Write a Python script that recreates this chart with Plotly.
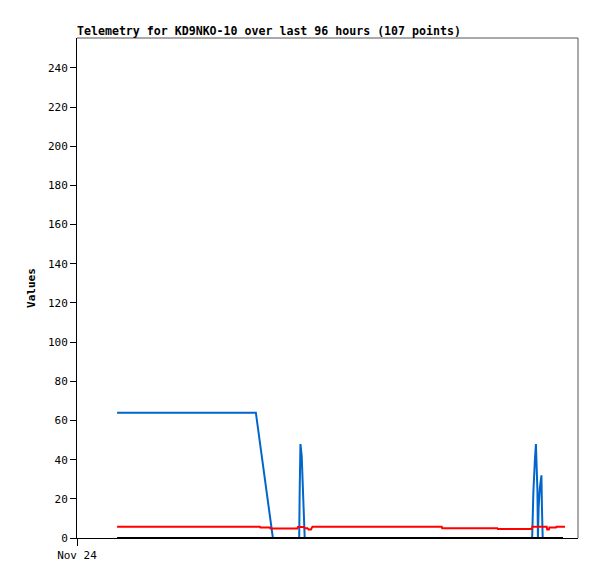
import plotly.graph_objects as go

# Hours from axis start (axis spans 0..100 h)
blue_x = [8.0, 35.7, 39.1, 44.35, 44.45, 44.6, 44.85, 45.05, 45.3, 45.45,
          90.85, 90.9, 91.1, 91.4, 91.6, 91.7, 91.9, 92.0, 92.15, 92.4, 92.7, 92.8, 92.95, 97.0]
blue_y = [64, 64, 0, 0, 24, 48, 42, 30, 18, 0,
          0, 8, 24, 40, 48, 40, 24, 0, 16, 26, 32, 16, 0, 0]

red_x = [8.0, 36.5, 36.6, 38.5, 38.6, 44.0, 44.1, 45.3, 45.5, 46.0, 46.2, 46.7, 47.0,
         72.8, 72.9, 83.9, 84.0, 90.8, 90.9, 93.75, 93.85, 94.2, 94.3, 95.6, 95.7, 97.4]
red_y = [5.8, 5.8, 5.4, 5.4, 4.9, 4.9, 5.6, 5.6, 5.0, 5.0, 4.4, 4.4, 5.8,
         5.8, 5.0, 5.0, 4.6, 4.6, 5.8, 5.8, 4.4, 4.4, 5.3, 5.3, 5.8, 5.8]

black_x = [8.0, 97.0]
black_y = [0, 0]

y_ticks = list(range(0, 241, 20))
x_tick_vals = [0]
x_tick_text = ["Nov 24"]

title = "Telemetry for KD9NKO-10 over last 96 hours (107 points)"

fig = go.Figure()
fig.add_trace(go.Scatter(x=blue_x, y=blue_y, mode="lines",
                         line=dict(color="#0066cc", width=2), showlegend=False))
fig.add_trace(go.Scatter(x=red_x, y=red_y, mode="lines",
                         line=dict(color="#ff0000", width=2), showlegend=False))
fig.add_trace(go.Scatter(x=black_x, y=black_y, mode="lines",
                         line=dict(color="#000000", width=2), showlegend=False))

mono = "DejaVu Sans Mono"
fig.update_layout(
    width=597, height=579,
    margin=dict(l=69, r=27, t=30, b=49),
    paper_bgcolor="white", plot_bgcolor="white",
    title=dict(text="<b>" + title + "</b>", x=69 / 597, xanchor="left",
               y=1 - 23 / 579, yanchor="middle",
               font=dict(family=mono, size=11.6, color="black")),
    font=dict(family=mono, size=11, color="black"),
    xaxis=dict(range=[0, 100], tickvals=x_tick_vals, ticktext=x_tick_text,
               showgrid=False, zeroline=False, showline=True, linecolor="black",
               linewidth=1, ticks="outside", ticklen=7, tickcolor="black",
               tickfont=dict(family=mono, size=11, color="black")),
    yaxis=dict(range=[0, 255.3], tickvals=y_ticks, showgrid=False, zeroline=False,
               showline=True, linecolor="black", linewidth=1,
               ticks="outside", ticklen=6, tickcolor="black",
               tickfont=dict(family=mono, size=11, color="black"),
               title=dict(text="<b>Values</b>", standoff=10,
                          font=dict(family=mono, size=11, color="black"))),
    shapes=[
        dict(type="line", xref="paper", yref="paper", x0=0, x1=1, y0=1, y1=1,
             line=dict(color="#555555", width=1)),
        dict(type="line", xref="paper", yref="paper", x0=1, x1=1, y0=0, y1=1,
             line=dict(color="#555555", width=1)),
    ],
)

fig.write_html("out.html")
